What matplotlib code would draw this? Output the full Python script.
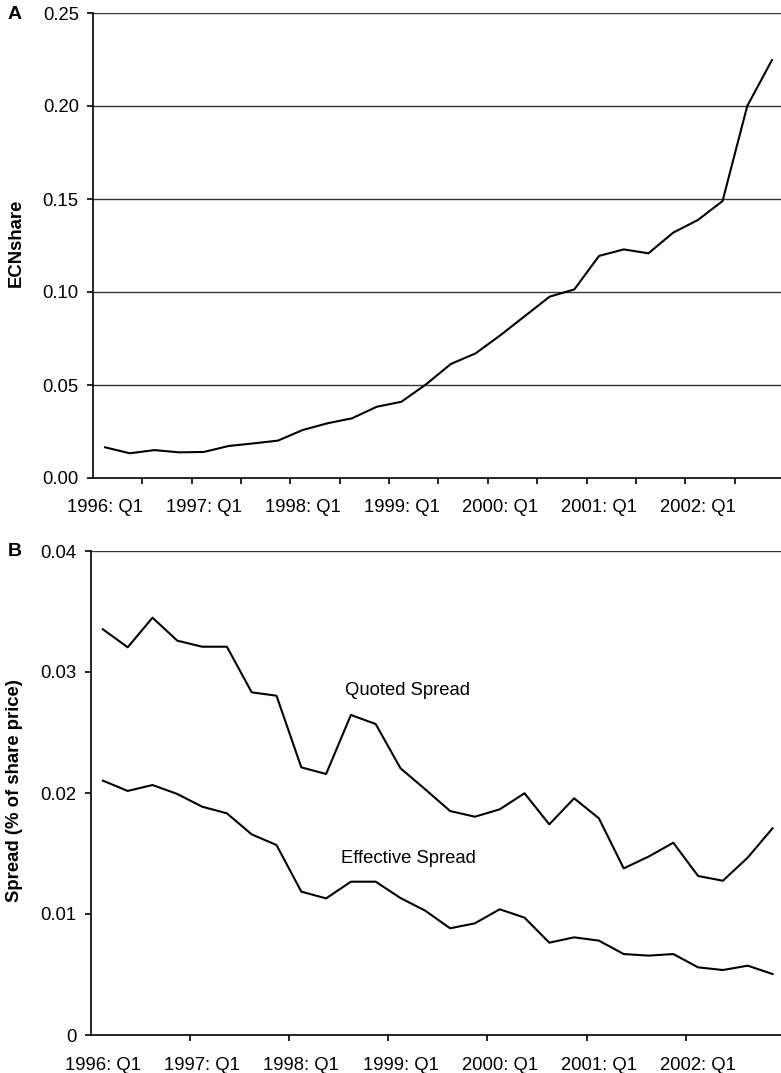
import numpy as np
import matplotlib
matplotlib.use("Agg")
import matplotlib.pyplot as plt
from matplotlib.ticker import FixedLocator, FixedFormatter

plt.rcParams['font.family'] = ['Liberation Sans', 'DejaVu Sans']
plt.rcParams['font.size'] = 13

# quarterly data, 1996 Q1 .. 2002 Q4
quarters = [f"{y}: Q{q}" for y in range(1996, 2003) for q in range(1, 5)]

ecn_share = [0.0165, 0.0133, 0.0150, 0.0138, 0.0140, 0.0172, 0.0186, 0.0201,
             0.0258, 0.0294, 0.0321, 0.0383, 0.0410, 0.0504, 0.0613, 0.0670,
             0.0767, 0.0871, 0.0975, 0.1014, 0.1194, 0.1229, 0.1208, 0.1319,
             0.1387, 0.1489, 0.2000, 0.2247]

quoted_spread = [0.03353, 0.03204, 0.03449, 0.03259, 0.03209, 0.03209, 0.02832, 0.02804,
                 0.02212, 0.02157, 0.02645, 0.02570, 0.02204, 0.02030, 0.01851, 0.01804,
                 0.01865, 0.01998, 0.01741, 0.01956, 0.01791, 0.01377, 0.01474, 0.01589,
                 0.01314, 0.01275, 0.01466, 0.01708]

effective_spread = [0.02102, 0.02017, 0.02066, 0.01992, 0.01887, 0.01832, 0.01658, 0.01570,
                    0.01185, 0.01129, 0.01267, 0.01267, 0.01132, 0.01027, 0.00882, 0.00923,
                    0.01039, 0.00970, 0.00763, 0.00807, 0.00780, 0.00669, 0.00656, 0.00669,
                    0.00559, 0.00537, 0.00573, 0.00504]

yticks_a = [0.00, 0.05, 0.10, 0.15, 0.20, 0.25]
yticks_b = [0.00, 0.01, 0.02, 0.03, 0.04]
yticklabels_b = ["0", "0.01", "0.02", "0.03", "0.04"]

W, H = 781, 1073
fig = plt.figure(figsize=(W / 100, H / 100), dpi=100)

x = np.arange(len(quarters))
label_pos = x[::4]
label_txt = [quarters[i] for i in label_pos]


def style_axis(ax, minor_pos, yt, ytl, ylim, xpad):
    ax.set_xlim(-0.5, len(quarters) - 0.5)
    ax.set_ylim(*ylim)
    for s in ['top', 'right']:
        ax.spines[s].set_visible(False)
    for s in ['left', 'bottom']:
        ax.spines[s].set_linewidth(1.2)
    ax.xaxis.set_major_locator(FixedLocator(label_pos))
    ax.xaxis.set_major_formatter(FixedFormatter(label_txt))
    ax.xaxis.set_minor_locator(FixedLocator(minor_pos))
    ax.tick_params(axis='x', which='major', length=0, pad=xpad, labelsize=13.3)
    ax.tick_params(axis='x', which='minor', length=4, width=1.2, direction='out')
    ax.set_yticks(yt)
    ax.set_yticklabels(ytl)
    ax.tick_params(axis='y', length=4, width=1.2, pad=6, labelsize=13.3)


# Panel A
axA = fig.add_axes([92.7 / W, 1 - 478 / H, 28 * 24.7 / W, (478 - 13) / H])
axA.plot(x, ecn_share, color='black', lw=1.5)
for v in yticks_a[1:]:
    axA.axhline(v, color='#333333', lw=1.0, zorder=0)
style_axis(axA, np.arange(1.5, 27, 2), yticks_a,
           [f"{v:.2f}" for v in yticks_a], (0, 0.25), 15)
fig.text(16 / W, 1 - 243 / H, "ECNshare", rotation=90, ha='center', va='center',
         fontsize=13.3, fontweight='bold')
fig.text(15 / W, 1 - 14.5 / H, "A", ha='center', va='center', fontsize=14, fontweight='bold')

# Panel B
axB = fig.add_axes([90.5 / W, 1 - 1035 / H, 28 * 24.8 / W, (1035 - 551) / H])
axB.plot(x, quoted_spread, color='black', lw=1.5)
axB.plot(x, effective_spread, color='black', lw=1.5)
axB.axhline(0.04, color='#333333', lw=1.0, zorder=0)
style_axis(axB, np.arange(3.5, 27, 4), yticks_b, yticklabels_b, (0, 0.04), 16)
axB.text(12.3, 0.0285, "Quoted Spread", ha='center', va='center', fontsize=13.3)
axB.text(12.3, 0.0146, "Effective Spread", ha='center', va='center', fontsize=13.3)
fig.text(14.5 / W, 1 - 791 / H, "Spread (% of share price)", rotation=90, ha='center',
         va='center', fontsize=13.3, fontweight='bold')
fig.text(15 / W, 1 - 551.5 / H, "B", ha='center', va='center', fontsize=14, fontweight='bold')

fig.savefig("out.png", dpi=100)
